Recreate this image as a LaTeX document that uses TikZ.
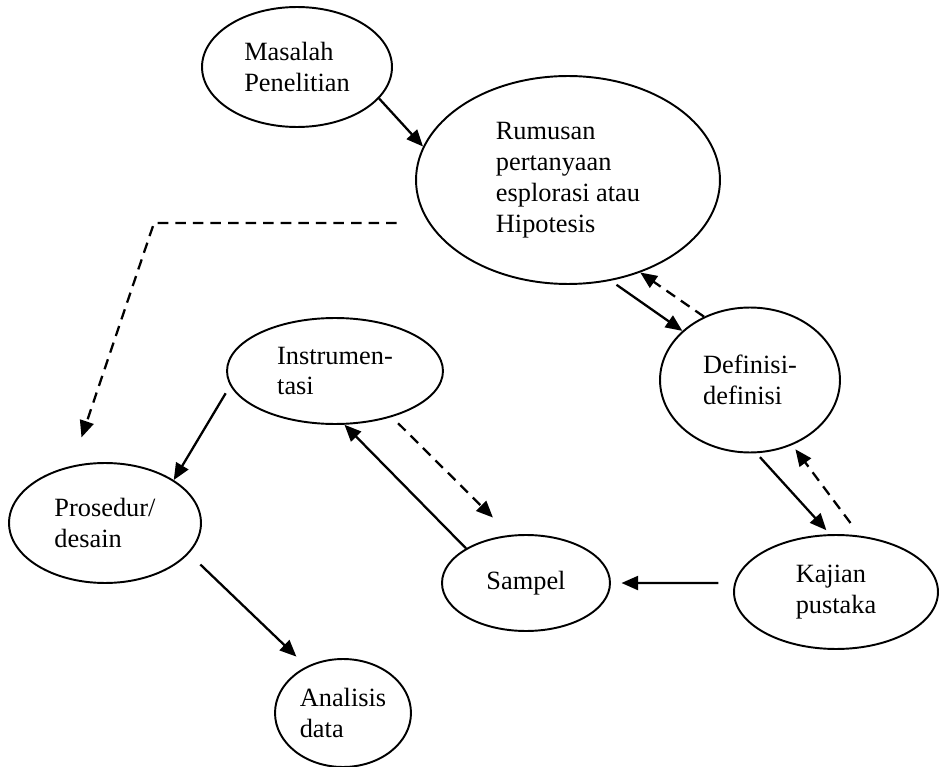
\documentclass[tikz,border=0pt]{standalone}
\usepackage{fontspec}
\setmainfont{Liberation Serif}
\usepackage{tikz}
\usetikzlibrary{arrows.meta, shapes.geometric}

\tikzset{
  bubble/.style={
    draw, ellipse, align=left, inner sep=0pt,
    line width=1.1pt, font=\fontsize{15}{17.6}\selectfont
  },
  mainarr/.style={
    -{Triangle[length=9.5pt,width=8pt]},
    line width=1.3pt
  },
  feedarr/.style={
    -{Triangle[length=9.5pt,width=8pt]},
    line width=1.3pt, dash pattern=on 6pt off 4pt
  }
}

\begin{document}
\begin{tikzpicture}[x=0.02cm, y=-0.02cm]
  \useasboundingbox (0,0) rectangle (941,767);

  %% ── Top: problem and research question ─────────────────────────
  \node[bubble, minimum width=3.8cm, minimum height=2.4cm] (masalah) at (297,67)
    {Masalah\\Penelitian};
  \node[bubble, minimum width=6.08cm, minimum height=4.16cm] (rumusan) at (568,180)
    {Rumusan\\pertanyaan\\esplorasi atau\\Hipotesis};

  %% ── Right column: definitions and literature ───────────────────
  \node[bubble, minimum width=3.6cm, minimum height=2.9cm] (definisi) at (750,380)
    {Definisi-\\definisi};
  \node[bubble, minimum width=4.08cm, minimum height=2.28cm] (kajian) at (836,592)
    {Kajian\\pustaka};

  %% ── Middle and left: sample, instruments, procedure ────────────
  \node[bubble, minimum width=3.36cm, minimum height=1.92cm] (sampel) at (526,583)
    {Sampel};
  \node[bubble, minimum width=4.32cm, minimum height=2.12cm] (instrumen) at (335,371)
    {Instrumen-\\tasi};
  \node[bubble, minimum width=3.84cm, minimum height=2.4cm] (prosedur) at (105,523)
    {Prosedur/\\desain};
  \node[bubble, minimum width=2.72cm, minimum height=2.16cm] (analisis) at (343,713)
    {Analisis\\data};

  %% ── Solid arrows ───────────────────────────────────────────────
  \draw[mainarr] (masalah.-21) -- (rumusan.167);
  \draw[mainarr, shorten <=4pt] (rumusan.-67) -- (definisi.144);
  \draw[mainarr, shorten <=3pt, shorten >=3pt] (definisi.-85) -- (kajian.96);
  \draw[mainarr, shorten <=9pt, shorten >=6pt] (kajian.175) -- (sampel.0);
  \draw[mainarr] (sampel.150) -- (instrumen.-80);
  \draw[mainarr, shorten <=5pt] (instrumen.188) -- (prosedur.32);
  \draw[mainarr, shorten <=9pt, shorten >=8pt] (prosedur.-20) -- (analisis.128);

  %% ── Dashed feedback arrows ─────────────────────────────────────
  \draw[feedarr] (definisi.126) -- (rumusan.-52);
  \draw[feedarr, shorten <=9pt, shorten >=3pt] (kajian.67) -- (definisi.-57);
  \draw[feedarr, shorten <=5pt, shorten >=14pt] (instrumen.-39) -- (sampel.108);

  % Rumusan -> Prosedur (dashed, with a bend)
  \coordinate (bend) at (154,223);
  \draw[feedarr, shorten <=18pt, shorten >=17pt]
    (rumusan.197 |- bend) -- (bend) -- (prosedur.120);

\end{tikzpicture}
\end{document}
